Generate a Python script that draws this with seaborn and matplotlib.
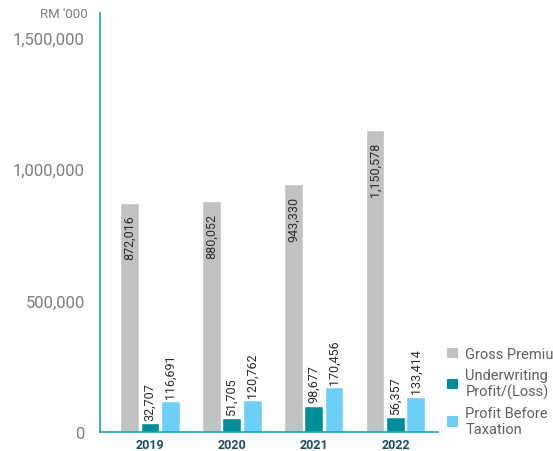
import matplotlib
matplotlib.use("Agg")
import matplotlib.pyplot as plt
import seaborn as sns
import pandas as pd
from matplotlib.patches import Patch

years = ["2019", "2020", "2021", "2022"]
series = ["Gross Premium", "Underwriting\nProfit/(Loss)", "Profit Before\nTaxation"]
gross_premium = [872016, 880052, 943330, 1150578]
underwriting = [32707, 51705, 98677, 56357]
profit_before_tax = [116691, 120762, 170456, 133414]
yticks = [0, 500000, 1000000, 1500000]
colors = ["#c1c2c4", "#008e9b", "#6dcff6"]

sns.set_theme(style="white")
plt.rcParams["font.family"] = ["Roboto", "DejaVu Sans"]

rows = []
for i, y in enumerate(years):
    for s, vals in zip(series, [gross_premium, underwriting, profit_before_tax]):
        rows.append({"Year": y, "Series": s, "Value": vals[i]})
df = pd.DataFrame(rows)

fig = plt.figure(figsize=(5.53, 4.52), dpi=100)
ax = fig.add_axes([100 / 553, 1 - 433 / 452, 338 / 553, 419 / 452])

sns.barplot(data=df, x="Year", y="Value", hue="Series", palette=colors,
            width=0.75, gap=0.08, ax=ax, legend=False, saturation=1)

ax.set_xlim(-0.61, 3.52)
ax.set_ylim(0, 1595000)
ax.set_yticks(yticks)
ax.set_yticklabels([f"{v:,}" for v in yticks], fontsize=12, color="#7c7d80")
ax.tick_params(axis="y", length=0, pad=11)
ax.tick_params(axis="x", length=0, pad=4)
for lbl in ax.get_xticklabels():
    lbl.set_fontweight("bold")
    lbl.set_color("#1d4d63")
    lbl.set_fontsize(9)
ax.set_xlabel("")
ax.set_ylabel("")
for sp in ["top", "right"]:
    ax.spines[sp].set_visible(False)
for sp in ["left", "bottom"]:
    ax.spines[sp].set_color("#1ba0b2")
    ax.spines[sp].set_linewidth(1.2)

# value labels
for ci, cont in enumerate(ax.containers):
    for bar in cont:
        h = bar.get_height()
        xc = bar.get_x() + bar.get_width() / 2
        txt = f"{int(h):,}"
        if ci == 0:
            ax.text(xc, h - 45000, txt, rotation=90, ha="center", va="top",
                    fontsize=9, color="#2b2b2b")
        else:
            ax.text(xc, h + 14000, txt, rotation=90, ha="center", va="bottom",
                    fontsize=9, color="#2b2b2b")

fig.text(88 / 553, 1 - 15 / 452, "RM '000", ha="right", va="center",
         fontsize=9.5, color="#7c7d80")

handles = [Patch(facecolor=c, edgecolor="none") for c in colors]
leg = fig.legend(handles, series, loc="upper left",
                 bbox_to_anchor=(434 / 553, 1 - 335 / 452), frameon=False,
                 fontsize=10.5, handlelength=0.75, handleheight=0.75,
                 handletextpad=0.5, labelspacing=0.45, labelcolor="#5f6063")

fig.savefig("out.png", dpi=100)
